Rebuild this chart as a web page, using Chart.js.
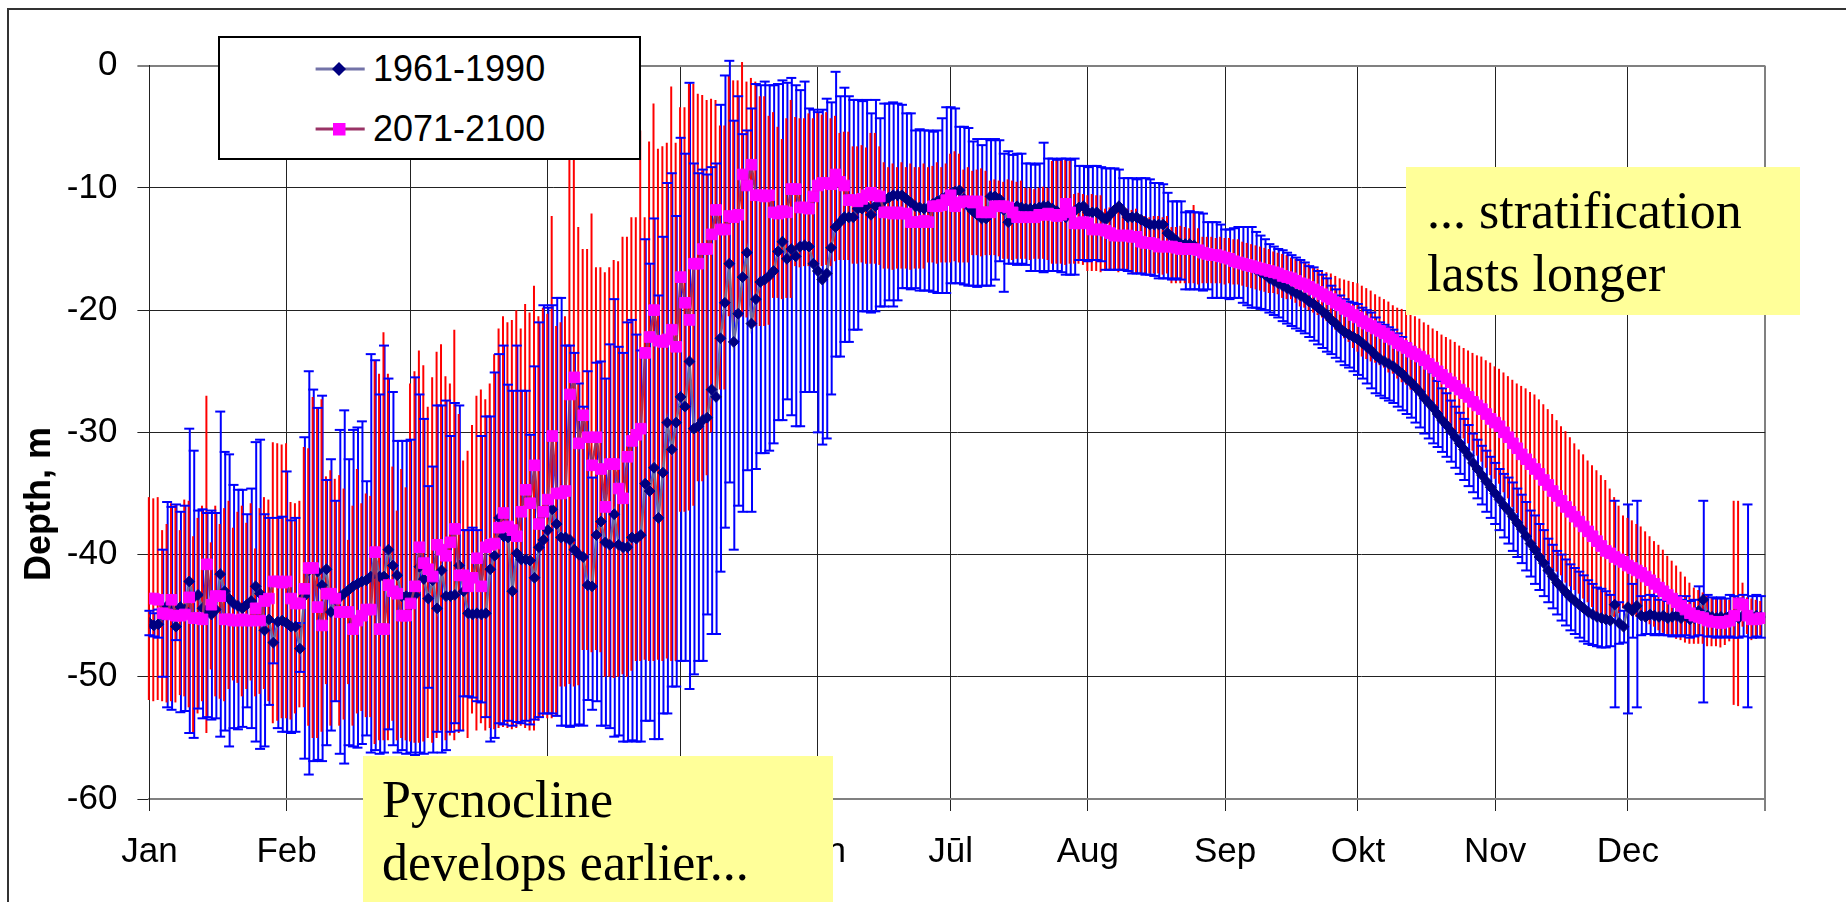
<!DOCTYPE html>
<html>
<head>
<meta charset="utf-8">
<script src="https://cdn.jsdelivr.net/npm/chart.js@4.4.0/dist/chart.umd.min.js"></script>
<style>
  html, body { margin: 0; padding: 0; background: #fff; overflow: hidden; }
  #wrap { position: relative; width: 1846px; height: 902px; overflow: hidden; }
  #frame { position: absolute; left: 7px; top: 8px; width: 2000px; height: 1000px;
           border-top: 2px solid #333; border-left: 2px solid #333; }
  canvas { position: absolute; left: 0; top: 0; }
  .legend { position: absolute; left: 218px; top: 36px; width: 423px; height: 124px;
            box-sizing: border-box; border: 2px solid #000; background: #fff; }
  .legend svg { position: absolute; left: 0; top: 0; }
  .legend .lbl { position: absolute; left: 153px; font: 36px "Liberation Sans", Arial, sans-serif;
                 line-height: 36px; white-space: nowrap; color: #000; }
  .note { position: absolute; background: #ffff99; box-sizing: border-box;
          font: 52px "Liberation Serif", "Times New Roman", serif; line-height: 63px;
          color: #000; white-space: nowrap; }
  #ytitle { position: absolute; left: 38px; top: 504px; transform: translate(-50%, -50%) rotate(-90deg);
            font: bold 36px "Liberation Sans", Arial, sans-serif; line-height: 36px; white-space: nowrap; }
</style>
</head>
<body>
<div id="wrap">
  <div id="frame"></div>
  <canvas id="c" width="1846" height="902"></canvas>
  <div id="ytitle">Depth, m</div>
  <div class="legend">
    <svg width="420" height="120">
      <line x1="95.6" y1="31" x2="144.7" y2="31" stroke="#7373a8" stroke-width="3"/>
      <polygon points="119,24 126,31 119,38 112,31" fill="#000080"/>
      <line x1="95.6" y1="91" x2="144.7" y2="91" stroke="#993366" stroke-width="3"/>
      <rect x="113" y="85" width="12.5" height="12.5" fill="#ff00ff"/>
    </svg>
    <div class="lbl" style="top:13px">1961-1990</div>
    <div class="lbl" style="top:73px">2071-2100</div>
  </div>
  <div class="note" style="left:363px; top:756px; width:470px; height:160px; padding:12px 0 0 19px;">Pycnocline<br>develops earlier...</div>
  <div class="note" style="left:1406px; top:167px; width:394px; height:148px; padding:12px 0 0 21px;">... stratification<br>lasts longer</div>
</div>
<script>
// x axis: day of year, gridlines at month starts
const monthStarts = [0, 31, 59, 90, 120, 151, 181, 212, 243, 273, 304, 334, 365];
const monthLabels = ['Jan', 'Feb', 'Mar', 'Apr', 'Mai', 'Jūn', 'Jūl', 'Aug', 'Sep', 'Okt', 'Nov', 'Dec', ''];
const yTicks = [0, -10, -20, -30, -40, -50, -60];

// 1961-1990 : daily mean depth, upper and lower end of the error bar
const m1 = [
-45.6,-45.8,-45.7,-45.0,-44.2,-44.6,-45.9,-44.3,-44.5,-42.2,
-43.5,-43.3,-44.4,-44.6,-44.9,-44.5,-41.6,-43.0,-43.6,-44.0,
-44.2,-44.4,-44.1,-43.8,-42.6,-43.2,-46.2,-45.3,-47.2,-45.5,
-45.4,-45.6,-45.9,-45.9,-47.7,-43.4,-41.3,-41.2,-41.4,-42.5,
-41.2,-44.7,-43.7,-43.5,-43.2,-42.9,-42.6,-42.4,-42.2,-42.1,
-41.8,-39.9,-41.8,-41.8,-39.6,-40.9,-41.7,-43.4,-43.4,-43.4,
-43.3,-41.0,-42.0,-43.6,-42.1,-44.4,-41.3,-43.4,-43.4,-43.3,
-40.9,-43.0,-44.8,-44.9,-44.8,-44.9,-44.8,-41.2,-40.1,-37.0,
-38.5,-38.6,-43.0,-39.9,-40.4,-40.4,-40.5,-41.9,-39.4,-38.8,
-38.0,-36.3,-37.5,-38.6,-38.6,-38.8,-39.6,-40.0,-40.2,-42.5,
-42.6,-38.4,-37.3,-39.0,-39.2,-36.7,-39.2,-39.4,-39.4,-38.6,
-38.7,-38.4,-34.2,-34.8,-32.9,-37.0,-33.3,-29.2,-31.4,-29.2,
-27.1,-27.9,-24.2,-29.7,-29.5,-29.0,-28.8,-26.5,-27.1,-22.3,
-19.4,-16.2,-22.6,-20.3,-17.3,-15.3,-21.1,-19.1,-17.7,-17.5,
-17.2,-16.8,-15.2,-14.4,-15.8,-15.0,-15.6,-14.8,-14.7,-14.8,
-16.2,-16.8,-17.5,-17.0,-14.9,-13.2,-12.8,-12.4,-12.4,-12.4,
-11.7,-11.7,-11.5,-12.2,-11.5,-11.2,-11.0,-10.8,-10.6,-10.6,
-10.6,-10.9,-11.2,-11.5,-11.6,-11.7,-11.6,-11.3,-11.1,-10.9,
-10.7,-10.5,-10.3,-10.2,-10.9,-11.5,-11.9,-12.2,-12.5,-12.5,
-10.7,-10.7,-10.9,-11.8,-12.8,-12.0,-11.5,-11.6,-11.7,-11.7,
-11.7,-11.6,-11.5,-11.5,-11.7,-11.9,-12.1,-12.4,-12.2,-11.9,
-11.6,-11.5,-12.0,-12.0,-12.0,-12.3,-12.6,-12.2,-11.8,-11.5,
-11.9,-12.4,-12.4,-12.4,-12.6,-12.8,-13.0,-13.0,-13.0,-13.0,
-13.7,-14.0,-14.3,-14.6,-14.6,-14.6,-14.7,-15.0,-15.2,-15.3,
-15.5,-15.5,-15.6,-15.7,-15.8,-16.0,-16.2,-16.3,-16.4,-16.5,
-16.7,-16.9,-17.1,-17.4,-17.6,-17.8,-18.0,-18.2,-18.4,-18.6,
-18.8,-19.0,-19.3,-19.5,-19.8,-20.1,-20.4,-20.8,-21.1,-21.5,
-21.8,-22.0,-22.2,-22.4,-22.7,-23.0,-23.3,-23.7,-24.0,-24.2,
-24.4,-24.6,-24.9,-25.2,-25.6,-25.9,-26.3,-26.7,-27.2,-27.6,
-28.0,-28.5,-29.0,-29.4,-29.9,-30.4,-30.9,-31.4,-31.9,-32.5,
-33.0,-33.5,-34.0,-34.5,-35.0,-35.5,-36.0,-36.4,-36.9,-37.4,
-37.9,-38.5,-39.1,-39.6,-40.2,-40.7,-41.3,-41.8,-42.3,-42.7,
-43.1,-43.5,-43.8,-44.1,-44.4,-44.7,-44.9,-45.1,-45.2,-45.3,
-45.4,-44.1,-45.6,-45.9,-44.3,-44.6,-44.2,-45.0,-45.1,-44.9,
-45.0,-45.1,-45.0,-45.2,-45.1,-45.0,-45.2,-45.0,-45.3,-45.2,
-44.6,-43.7,-45.0,-45.1,-45.2,-45.1,-45.2,-45.0,-45.1,-45.2,
-45.0,-44.9,-45.1,-45.0,-45.1
];
const hi1 = [
-44.6,-44.8,-44.5,-39.6,-35.7,-36.1,-35.9,-36.5,-36.0,-29.7,
-31.5,-36.4,-36.3,-36.6,-36.4,-36.6,-28.3,-31.6,-31.8,-34.3,
-34.7,-34.7,-36.7,-34.6,-30.8,-30.6,-36.7,-37.0,-45.5,-37.0,
-36.9,-33.2,-37.2,-37.0,-45.6,-30.4,-25.0,-26.5,-28.0,-27.0,
-33.9,-32.2,-35.6,-29.8,-28.2,-32.2,-29.8,-29.6,-29.1,-34.0,
-23.6,-24.1,-26.9,-22.9,-25.6,-26.7,-30.7,-30.7,-30.7,-30.6,
-25.5,-26.9,-28.9,-34.4,-32.8,-27.8,-27.8,-27.4,-30.3,-27.6,
-27.8,-38.0,-38.0,-37.8,-38.0,-30.3,-28.7,-28.7,-25.1,-23.6,
-22.9,-26.1,-26.6,-22.9,-26.6,-26.6,-30.2,-24.6,-21.0,-19.6,
-19.8,-19.6,-19.0,-19.0,-22.9,-22.9,-23.5,-26.0,-27.9,-25.0,
-33.7,-24.3,-24.2,-25.6,-22.8,-19.1,-23.0,-23.5,-21.0,-20.8,
-22.0,-23.3,-14.2,-16.2,-12.5,-18.8,-14.0,-9.6,-8.8,-12.3,
-5.9,-7.2,-1.4,-8.0,-8.8,-8.5,-8.9,-8.3,-8.0,-3.2,
-0.8,0.4,-4.5,-2.5,-5.6,-5.3,-3.5,-1.5,-1.6,-1.3,
-1.6,-1.6,-1.5,-1.2,-1.4,-1.0,-1.6,-2.0,-1.3,-3.5,
-3.6,-3.8,-3.6,-2.7,-3.0,-0.5,-2.5,-1.8,-2.5,-2.8,
-2.8,-2.9,-2.8,-3.9,-2.8,-4.3,-3.1,-3.1,-3.0,-3.1,
-3.2,-3.9,-3.9,-5.3,-5.2,-5.3,-5.3,-5.4,-5.3,-4.3,
-3.4,-3.4,-3.5,-5.0,-5.0,-5.1,-6.2,-6.0,-6.5,-6.0,
-6.1,-6.0,-6.1,-7.2,-7.0,-7.3,-7.2,-7.2,-8.0,-8.0,
-8.1,-8.0,-6.3,-7.6,-7.6,-7.7,-7.6,-7.6,-7.7,-7.6,
-8.2,-8.2,-8.3,-8.2,-8.2,-8.3,-8.4,-8.4,-8.4,-8.5,
-9.2,-9.2,-9.2,-9.3,-9.2,-9.2,-9.3,-9.6,-9.6,-9.7,
-10.4,-11.1,-11.1,-11.1,-12.0,-11.9,-12.0,-12.0,-12.1,-12.8,
-12.8,-12.8,-13.0,-13.4,-13.4,-13.3,-13.2,-13.2,-13.2,-13.2,
-13.6,-13.9,-14.2,-14.6,-14.8,-15.0,-15.1,-15.3,-15.5,-15.7,
-15.9,-16.1,-16.4,-16.5,-16.8,-17.1,-17.4,-18.0,-18.3,-18.8,
-19.1,-19.3,-19.4,-19.5,-19.8,-20.0,-20.2,-20.6,-21.0,-21.2,
-21.4,-21.6,-21.9,-22.2,-22.7,-23.0,-23.4,-23.8,-24.3,-24.7,
-25.1,-25.8,-26.4,-26.8,-27.4,-27.9,-28.4,-28.9,-29.4,-30.1,
-30.6,-31.1,-31.5,-32.0,-32.5,-33.0,-33.4,-33.7,-34.1,-34.6,
-35.1,-35.7,-36.4,-36.8,-37.5,-38.0,-38.7,-39.2,-39.7,-40.0,
-40.4,-40.8,-41.1,-41.4,-41.7,-42.1,-42.4,-42.7,-42.8,-43.0,
-43.3,-35.6,-43.9,-44.6,-35.9,-42.4,-35.6,-43.4,-43.7,-43.3,
-43.4,-43.7,-43.4,-43.8,-43.5,-43.4,-43.7,-43.4,-43.8,-43.7,
-42.6,-35.6,-43.3,-43.5,-43.6,-43.5,-43.6,-43.3,-43.4,-43.6,
-43.3,-35.9,-43.4,-43.3,-43.4
];
const lo1 = [
-46.6,-46.7,-46.8,-50.0,-52.5,-52.7,-47.0,-52.9,-52.8,-54.6,
-55.0,-52.6,-53.4,-53.3,-53.5,-53.4,-54.9,-54.4,-55.7,-54.2,
-54.3,-54.1,-52.5,-54.2,-55.3,-55.9,-55.7,-52.3,-48.9,-54.2,
-54.5,-54.5,-54.6,-54.5,-49.6,-56.7,-58.0,-56.9,-56.8,-56.9,
-55.6,-54.4,-52.0,-56.3,-57.1,-55.6,-55.7,-55.8,-55.5,-54.8,
-56.2,-56.0,-56.3,-56.2,-54.3,-55.6,-56.2,-56.0,-56.3,-56.2,
-56.4,-56.2,-56.3,-50.9,-56.2,-54.5,-56.2,-56.0,-54.5,-53.8,
-54.4,-51.6,-51.6,-51.7,-52.0,-52.1,-53.3,-55.3,-55.0,-53.8,
-53.9,-53.6,-54.0,-53.7,-53.8,-53.6,-53.9,-53.5,-53.3,-53.0,
-53.0,-53.0,-53.2,-54.0,-54.0,-54.1,-54.0,-53.9,-54.0,-51.9,
-52.7,-52.0,-54.0,-54.0,-54.2,-54.9,-54.8,-55.3,-55.3,-55.2,
-55.3,-55.3,-53.6,-53.6,-55.1,-55.1,-53.0,-53.0,-50.8,-50.8,
-48.7,-48.7,-51.0,-49.8,-48.7,-48.7,-44.9,-46.5,-46.5,-41.4,
-37.8,-34.1,-39.6,-36.0,-36.5,-33.1,-36.5,-33.0,-31.7,-31.7,
-31.5,-30.9,-29.0,-29.0,-27.3,-28.6,-29.5,-29.5,-26.7,-26.7,
-26.7,-30.0,-31.0,-30.5,-26.9,-23.8,-23.8,-22.6,-22.6,-21.6,
-21.6,-20.1,-20.1,-20.2,-20.1,-19.7,-19.7,-19.2,-19.7,-19.2,
-18.2,-18.2,-18.3,-18.2,-18.4,-18.4,-18.4,-18.5,-18.6,-18.6,
-18.6,-17.8,-17.8,-17.8,-17.9,-18.0,-18.0,-18.1,-18.0,-18.0,
-18.0,-17.5,-16.0,-18.5,-16.2,-16.2,-16.3,-16.2,-16.3,-16.8,
-16.8,-16.8,-16.9,-16.8,-16.8,-16.8,-16.9,-17.1,-17.1,-17.1,
-15.9,-15.9,-16.0,-15.9,-15.9,-16.0,-16.7,-16.7,-16.7,-16.7,
-16.7,-16.8,-17.0,-17.0,-17.0,-17.1,-17.1,-17.2,-17.4,-17.4,
-17.4,-17.5,-17.4,-17.5,-18.3,-18.3,-18.3,-18.3,-18.4,-18.3,
-19.0,-19.0,-19.0,-19.0,-19.1,-19.0,-19.0,-19.4,-19.6,-19.8,
-19.8,-19.9,-20.0,-20.2,-20.4,-20.6,-20.9,-21.1,-21.3,-21.5,
-21.7,-21.9,-22.2,-22.5,-22.8,-23.1,-23.4,-23.6,-23.9,-24.2,
-24.5,-24.7,-25.0,-25.3,-25.6,-26.0,-26.4,-26.8,-27.0,-27.2,
-27.4,-27.6,-27.9,-28.2,-28.5,-28.8,-29.2,-29.6,-30.1,-30.5,
-30.9,-31.2,-31.6,-32.0,-32.4,-32.9,-33.4,-33.9,-34.4,-34.9,
-35.4,-35.9,-36.5,-37.0,-37.5,-38.0,-38.6,-39.1,-39.7,-40.2,
-40.7,-41.3,-41.8,-42.4,-42.9,-43.4,-43.9,-44.4,-44.9,-45.4,
-45.8,-46.2,-46.5,-46.8,-47.1,-47.3,-47.4,-47.5,-47.6,-47.6,
-47.5,-52.5,-47.3,-47.2,-53.0,-46.8,-52.5,-46.6,-46.5,-46.5,
-46.6,-46.5,-46.6,-46.6,-46.7,-46.6,-46.7,-46.6,-46.8,-46.7,
-46.6,-52.1,-46.7,-46.7,-46.8,-46.7,-46.8,-46.7,-46.8,-46.8,
-46.7,-52.5,-46.8,-46.7,-46.8
];

// 2071-2100 : daily mean depth, upper and lower end of the error bar
const m2 = [
-43.6,-43.6,-43.7,-44.8,-44.9,-43.7,-45.0,-45.0,-44.9,-43.5,
-45.2,-45.2,-45.3,-40.8,-44.1,-43.4,-43.4,-45.3,-45.3,-45.4,
-45.4,-45.3,-45.4,-45.4,-44.4,-45.4,-43.8,-43.6,-42.2,-42.2,
-42.3,-42.2,-43.6,-44.0,-44.0,-42.8,-41.1,-41.1,-44.3,-45.8,
-43.2,-43.2,-43.6,-44.7,-44.7,-44.7,-46.1,-45.4,-45.0,-44.5,
-44.5,-39.8,-46.1,-46.1,-42.5,-43.0,-43.2,-45.0,-45.0,-44.0,
-42.6,-39.4,-40.7,-41.2,-41.8,-39.2,-39.6,-40.1,-39.0,-37.9,
-41.7,-41.7,-42.6,-41.9,-40.3,-42.6,-39.4,-39.2,-39.1,-37.8,
-36.6,-37.7,-38.0,-38.5,-36.5,-34.7,-35.8,-32.7,-37.5,-36.5,
-35.5,-30.3,-35.0,-35.0,-34.8,-26.9,-25.5,-30.9,-28.6,-30.4,
-32.7,-30.4,-33.0,-36.1,-32.6,-32.6,-34.6,-35.4,-32.0,-30.7,
-30.2,-29.7,-23.5,-22.2,-20.0,-22.5,-22.6,-22.4,-21.6,-23.0,
-17.3,-19.4,-20.8,-16.2,-16.2,-15.0,-15.0,-13.8,-11.8,-13.4,
-13.4,-12.3,-12.4,-12.2,-8.9,-9.8,-8.1,-10.6,-10.6,-10.7,
-10.6,-12.0,-12.1,-11.9,-12.0,-10.1,-10.1,-11.6,-11.6,-11.7,
-10.7,-9.8,-9.6,-9.6,-9.7,-8.9,-9.5,-9.8,-11.0,-11.0,
-11.1,-10.9,-10.6,-10.4,-10.6,-10.7,-12.0,-12.0,-12.1,-12.0,
-12.1,-12.1,-12.8,-12.8,-12.8,-12.7,-12.8,-11.5,-11.5,-11.4,
-11.0,-10.6,-11.5,-11.2,-11.1,-11.1,-11.2,-11.1,-12.0,-12.0,
-12.0,-11.5,-11.5,-11.5,-11.6,-12.0,-12.4,-12.4,-12.4,-12.4,
-12.4,-12.2,-12.2,-12.1,-12.2,-12.3,-12.2,-11.3,-12.0,-12.9,
-12.9,-12.8,-12.9,-13.4,-13.4,-13.4,-13.5,-13.7,-13.9,-13.9,
-13.9,-13.9,-14.0,-14.0,-14.4,-14.5,-14.5,-14.6,-14.8,-14.8,
-14.8,-14.8,-14.9,-15.0,-15.0,-15.0,-15.0,-15.1,-15.3,-15.4,
-15.5,-15.5,-15.6,-15.7,-15.8,-16.0,-16.1,-16.2,-16.3,-16.4,
-16.5,-16.6,-16.7,-16.8,-16.9,-17.0,-17.2,-17.3,-17.4,-17.6,
-17.8,-17.9,-18.1,-18.3,-18.5,-18.7,-18.9,-19.1,-19.4,-19.6,
-19.9,-20.1,-20.4,-20.6,-20.9,-21.1,-21.3,-21.5,-21.7,-21.9,
-22.2,-22.4,-22.7,-22.9,-23.1,-23.4,-23.6,-23.8,-24.1,-24.4,
-24.7,-25.0,-25.3,-25.6,-25.9,-26.2,-26.5,-26.8,-27.1,-27.5,
-27.8,-28.1,-28.5,-28.9,-29.2,-29.5,-30.0,-30.4,-30.9,-31.3,
-31.8,-32.2,-32.6,-33.0,-33.4,-33.9,-34.3,-34.8,-35.2,-35.6,
-36.1,-36.5,-36.9,-37.3,-37.7,-38.1,-38.5,-38.9,-39.3,-39.7,
-39.9,-40.2,-40.4,-40.6,-40.9,-41.1,-41.3,-41.5,-41.8,-42.1,
-42.4,-42.7,-43.0,-43.3,-43.6,-43.9,-44.2,-44.5,-44.8,-45.0,
-45.1,-45.2,-45.4,-45.5,-45.5,-45.6,-45.5,-45.4,-45.0,-44.0,
-44.1,-45.0,-45.3,-45.3,-45.2
];
const hi2 = [
-35.3,-35.4,-35.3,-38.0,-37.5,-35.8,-35.9,-38.0,-35.5,-35.6,
-38.5,-37.0,-36.0,-27.0,-39.0,-36.0,-37.5,-36.2,-35.6,-37.8,
-36.5,-36.0,-37.4,-35.8,-39.5,-36.2,-35.3,-35.5,-30.8,-30.9,
-31.0,-30.9,-35.7,-35.8,-35.6,-31.2,-31.3,-27.1,-28.0,-27.3,
-33.6,-33.1,-33.8,-33.5,-34.6,-38.8,-36.0,-33.0,-35.8,-35.0,
-35.2,-24.1,-25.2,-21.8,-25.2,-32.8,-36.4,-33.0,-34.5,-26.0,
-25.0,-23.3,-24.5,-27.9,-25.5,-23.4,-22.8,-25.4,-26.0,-21.6,
-28.5,-32.3,-31.5,-29.4,-27.0,-26.5,-27.3,-26.0,-23.6,-21.5,
-20.5,-21.0,-20.8,-20.0,-21.5,-19.5,-20.2,-18.0,-20.5,-19.8,
-20.3,-12.3,-21.3,-21.0,-20.5,-7.5,-7.4,-13.2,-15.0,-15.0,
-12.1,-16.5,-16.5,-16.9,-16.5,-15.9,-16.0,-14.0,-14.0,-12.4,
-12.4,-5.3,-12.4,-6.2,-3.1,-6.8,-6.6,-6.3,-1.7,-6.3,
-3.4,-3.4,-1.5,-1.5,-2.3,-2.4,-2.8,-2.7,-2.8,-4.9,
-4.9,-0.8,-1.2,-1.2,0.3,-1.3,-1.0,-1.3,-2.5,-2.5,
-4.1,-3.8,-5.0,-6.0,-4.3,-2.8,-4.2,-4.3,-4.3,-3.9,
-4.3,-3.8,-4.0,-3.8,-4.3,-4.1,-5.5,-5.4,-5.4,-6.6,
-6.6,-6.5,-6.7,-5.5,-5.5,-6.6,-7.9,-8.3,-8.0,-8.3,
-7.9,-8.3,-8.0,-8.3,-8.3,-8.0,-8.3,-8.2,-7.9,-8.3,
-8.0,-7.2,-7.0,-7.2,-8.5,-8.3,-8.6,-8.5,-8.4,-8.6,
-9.4,-9.3,-9.4,-9.5,-9.3,-9.4,-9.5,-9.4,-10.0,-10.0,
-10.1,-10.0,-9.9,-10.0,-7.8,-7.7,-7.6,-7.7,-7.8,-10.5,
-10.4,-10.5,-10.6,-10.5,-10.6,-10.6,-11.7,-11.6,-11.7,-11.7,
-11.8,-11.7,-11.8,-11.7,-12.3,-12.3,-12.4,-12.3,-12.3,-12.4,
-12.3,-13.2,-13.2,-13.1,-13.2,-13.3,-11.4,-13.3,-14.0,-14.0,
-14.0,-14.1,-14.0,-14.1,-14.1,-14.2,-14.2,-14.4,-14.5,-14.6,
-14.7,-14.8,-14.9,-15.0,-15.2,-15.3,-15.4,-15.5,-15.7,-15.8,
-15.9,-16.0,-16.2,-16.4,-16.6,-16.8,-16.9,-17.0,-17.2,-17.4,
-17.5,-17.6,-17.7,-17.8,-18.0,-18.2,-18.4,-18.7,-18.9,-19.1,
-19.3,-19.6,-19.8,-19.9,-20.1,-20.3,-20.5,-20.7,-21.0,-21.2,
-21.5,-21.7,-22.0,-22.2,-22.4,-22.6,-22.9,-23.1,-23.3,-23.5,
-23.7,-23.8,-24.1,-24.3,-24.6,-24.8,-25.1,-25.4,-25.7,-26.0,
-26.2,-26.4,-26.7,-26.9,-27.3,-27.7,-28.1,-28.5,-29.0,-29.5,
-29.9,-30.4,-30.9,-31.4,-31.8,-32.3,-32.7,-33.1,-33.5,-33.9,
-34.6,-35.3,-36.0,-36.8,-37.0,-37.2,-37.5,-37.7,-38.1,-38.5,
-38.9,-39.2,-39.6,-40.1,-40.5,-40.9,-41.4,-41.8,-42.3,-42.7,
-42.9,-43.1,-43.3,-43.5,-43.5,-43.6,-43.6,-43.7,-35.6,-35.6,
-42.3,-43.5,-43.6,-43.7,-43.8
];
const lo2 = [
-51.9,-52.0,-51.9,-52.0,-52.1,-52.0,-52.1,-51.5,-51.6,-52.5,
-54.6,-53.0,-52.0,-54.6,-49.4,-51.6,-51.8,-52.0,-51.0,-50.3,
-50.5,-51.6,-51.0,-50.3,-51.6,-51.4,-51.0,-52.0,-53.8,-53.6,
-53.4,-53.4,-53.5,-53.0,-52.5,-52.5,-54.0,-55.0,-55.0,-54.5,
-50.6,-54.0,-52.0,-54.0,-53.5,-50.6,-54.0,-53.0,-52.8,-53.3,
-53.3,-55.5,-55.2,-55.2,-55.2,-53.6,-55.2,-55.0,-55.2,-55.3,
-55.4,-55.4,-55.3,-55.0,-55.4,-55.0,-54.4,-55.2,-54.8,-55.2,
-54.6,-54.4,-55.0,-53.0,-54.4,-53.8,-54.4,-54.2,-54.3,-54.2,
-54.1,-54.2,-54.3,-54.2,-54.0,-54.2,-54.4,-54.4,-53.6,-53.3,
-53.4,-53.4,-53.2,-50.8,-50.8,-50.6,-50.8,-50.7,-47.8,-47.8,
-48.0,-47.8,-48.0,-50.0,-50.0,-50.1,-50.0,-49.8,-50.0,-49.5,
-48.7,-48.7,-48.6,-48.7,-48.7,-48.6,-48.7,-48.5,-48.7,-48.7,
-36.5,-36.5,-36.4,-36.0,-34.0,-34.0,-33.5,-30.0,-26.5,-26.5,
-26.5,-20.5,-21.0,-20.5,-20.5,-20.6,-20.5,-21.3,-21.3,-21.3,
-21.2,-19.0,-19.0,-19.1,-19.0,-19.0,-16.4,-16.5,-16.4,-16.4,
-16.5,-16.4,-16.4,-16.3,-16.4,-16.0,-15.9,-15.9,-15.9,-16.2,
-16.2,-16.1,-16.2,-16.2,-16.2,-16.3,-16.6,-16.6,-16.7,-16.6,
-16.6,-16.6,-16.7,-16.6,-16.6,-16.6,-16.1,-16.1,-16.2,-16.1,
-16.1,-16.1,-16.0,-16.1,-16.1,-16.1,-15.5,-15.5,-15.6,-15.5,
-15.5,-15.5,-15.6,-15.8,-15.8,-15.9,-15.8,-15.8,-15.8,-15.9,
-15.8,-15.8,-15.8,-15.9,-16.2,-16.2,-16.2,-16.3,-16.2,-16.2,
-16.2,-16.3,-16.8,-16.8,-16.8,-16.9,-16.8,-16.8,-16.8,-16.9,
-16.8,-16.8,-17.0,-17.0,-17.0,-17.1,-17.0,-17.0,-17.0,-17.1,
-17.0,-17.8,-17.8,-17.8,-17.8,-17.8,-17.8,-17.9,-17.8,-17.8,
-17.8,-17.8,-17.8,-17.9,-17.8,-17.9,-17.9,-18.0,-18.1,-18.2,
-18.3,-18.4,-18.5,-18.6,-18.6,-18.7,-19.0,-19.1,-19.1,-19.4,
-19.7,-19.8,-20.0,-20.2,-20.4,-20.6,-20.9,-21.2,-21.6,-21.8,
-22.3,-22.6,-23.1,-23.4,-23.8,-24.0,-24.2,-24.3,-24.5,-24.7,
-25.1,-25.2,-25.6,-25.9,-26.1,-26.5,-26.7,-26.9,-27.2,-27.6,
-27.9,-28.3,-28.6,-29.0,-29.4,-29.8,-30.1,-30.5,-30.9,-31.5,
-31.9,-32.4,-32.9,-33.5,-33.8,-34.2,-34.9,-35.4,-36.1,-36.6,
-37.4,-38.0,-38.5,-39.1,-39.5,-40.1,-40.5,-41.1,-41.4,-41.7,
-42.3,-42.6,-42.9,-43.2,-43.6,-43.9,-44.3,-44.7,-45.1,-45.5,
-45.2,-45.1,-44.8,-44.4,-44.8,-45.0,-45.1,-45.3,-45.5,-45.7,
-45.9,-46.2,-46.4,-46.5,-46.7,-46.9,-47.0,-47.2,-47.3,-47.3,
-47.3,-47.3,-47.5,-47.5,-47.5,-47.6,-47.4,-47.1,-52.3,-52.4,
-45.9,-46.5,-47.0,-46.9,-46.6
];

[m1, hi1, lo1, m2, hi2, lo2].forEach((a, k) => {
  if (a.length !== 365) throw new Error('array ' + k + ' has ' + a.length + ' values');
});

const pts = (arr) => arr.map((v, i) => ({ x: i, y: v }));
const range = (lo, hi) => lo.map((v, i) => ({ x: i, y: [v, hi[i]] }));
const caps = lo1.flatMap((v, i) => [{ x: i, y: v }, { x: i, y: hi1[i] }]);

Chart.defaults.font.family = '"Liberation Sans", Arial, sans-serif';
Chart.defaults.color = '#000';

// error bars: two grouped floating bars per day, red one drawn on top and slightly overlapping
const barOpts = { categoryPercentage: 0.5, barPercentage: 1.8, inflateAmount: 0, clip: false };

new Chart(document.getElementById('c'), {
  type: 'bar',
  data: {
    datasets: [
      { type: 'line', label: '2071-2100', data: pts(m2), order: 1,
        borderColor: '#993366', borderWidth: 2.5, tension: 0,
        pointStyle: 'rect', pointRadius: 7.5, pointBackgroundColor: '#ff00ff',
        pointBorderColor: '#ff00ff', pointBorderWidth: 1 },
      { type: 'line', label: '1961-1990', data: pts(m1), order: 2,
        borderColor: '#6b6ba3', borderWidth: 2.5, tension: 0,
        pointStyle: 'rectRot', pointRadius: 5.4, pointBackgroundColor: '#000080',
        pointBorderColor: '#000080', pointBorderWidth: 1 },
      { type: 'scatter', data: caps, order: 3, clip: false,
        pointStyle: 'line', pointRadius: 5, pointBorderColor: '#0000ff',
        borderColor: '#0000ff', pointBorderWidth: 2 },
      Object.assign({ type: 'bar', data: range(lo2, hi2), order: 4, backgroundColor: '#ff0000' }, barOpts),
      Object.assign({ type: 'bar', data: range(lo1, hi1), order: 5, backgroundColor: '#0000ff' }, barOpts)
    ]
  },
  options: {
    responsive: false,
    animation: false,
    devicePixelRatio: 1,
    layout: { padding: { left: 0, top: 65.7, right: 80.8, bottom: 0 } },
    plugins: { legend: { display: false }, tooltip: { enabled: false } },
    scales: {
      x: {
        type: 'linear', min: 0, max: 365, offset: false,
        afterBuildTicks: (s) => { s.ticks = monthStarts.map(v => ({ value: v })); },
        afterFit: (s) => { s.height = 103; },
        ticks: {
          autoSkip: false, maxRotation: 0, padding: 20, color: '#000',
          font: { size: 35 },
          callback: (v) => monthLabels[monthStarts.indexOf(v)]
        },
        grid: {
          offset: false, tickLength: 12,
          color: (c) => (c.tick && c.tick.value === 365) ? '#808080' : '#222',
          lineWidth: (c) => (c.tick && c.tick.value === 365) ? 2 : 1
        },
        border: { color: '#808080', width: 2 }
      },
      y: {
        min: -60, max: 0,
        afterBuildTicks: (s) => { s.ticks = yTicks.map(v => ({ value: v })); },
        afterFit: (s) => { s.width = 149.4; },
        ticks: { padding: 20, color: '#000', font: { size: 35 } },
        grid: {
          tickLength: 12,
          color: (c) => (c.tick && c.tick.value === 0) ? '#808080' : '#222',
          lineWidth: (c) => (c.tick && c.tick.value === 0) ? 2 : 1
        },
        border: { color: '#222', width: 1 }
      }
    }
  }
});
</script>
</body>
</html>
